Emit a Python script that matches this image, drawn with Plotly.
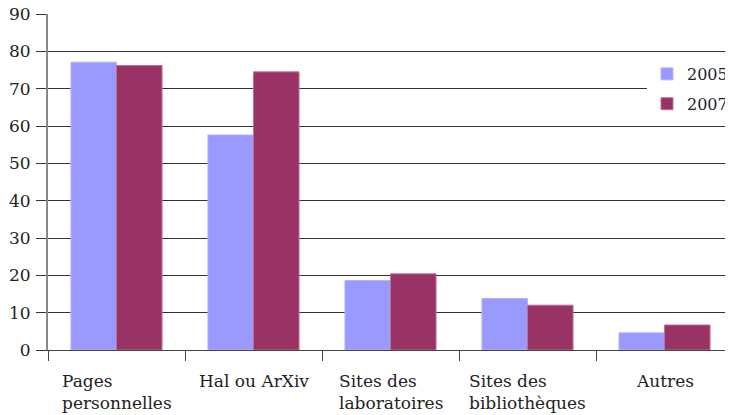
import plotly.graph_objects as go

categories = ["Pages<br>personnelles", "Hal ou ArXiv", "Sites des<br>laboratoires", "Sites des<br>bibliothèques", "Autres"]
series_names = ["2005", "2007"]
values_2005 = [77.1, 57.6, 18.6, 13.8, 4.6]
values_2007 = [76.2, 74.5, 20.4, 12.0, 6.7]
y_ticks = [0, 10, 20, 30, 40, 50, 60, 70, 80, 90]

FONT = "DejaVu Serif"
fig = go.Figure()
fig.add_trace(go.Bar(x=categories, y=values_2005, name=series_names[0], legendgroup="a",
                     marker=dict(color="#9999FF", line=dict(color="#B3B3FF", width=1))))
fig.add_trace(go.Bar(x=categories, y=values_2007, name=series_names[1], legendgroup="b",
                     marker=dict(color="#993366", line=dict(color="#C07090", width=1))))

for c in categories:
    fig.add_annotation(x=c, xref="x", y=-0.058, yref="paper", text=c, showarrow=False,
                       align="left", xanchor="center", yanchor="top",
                       font=dict(family=FONT, size=17, color="#222"))

# page body has an 8px default margin; figure sized to fill the remaining window
fig.update_layout(
    width=725, height=407,
    margin=dict(l=40, r=0, t=6, b=65, autoexpand=False),
    paper_bgcolor="white", plot_bgcolor="white",
    barmode="group", bargap=0.335, bargroupgap=0,
    font=dict(family=FONT, size=16, color="#222"),
    showlegend=True,
    legend=dict(x=1.0, xanchor="right", y=0.872, yanchor="top", bgcolor="white",
                font=dict(family=FONT, size=16, color="#222"),
                itemwidth=30, tracegroupgap=6, traceorder="grouped"),
    xaxis=dict(showticklabels=False, ticks="outside", tickson="boundaries", ticklen=10,
               tickcolor="#444", showline=True, linecolor="#444", linewidth=1,
               showgrid=False, zeroline=False, automargin=False),
    yaxis=dict(range=[0, 90], tickvals=y_ticks, ticks="outside", ticklen=10,
               tickcolor="#333", showline=True, linecolor="#888", linewidth=2,
               showgrid=True, gridcolor="#333", gridwidth=1, zeroline=False, automargin=False,
               ticklabeloverflow="allow",
               tickfont=dict(family=FONT, size=17, color="#222"), ticklabelstandoff=2),
)
fig.write_html("out.html")
